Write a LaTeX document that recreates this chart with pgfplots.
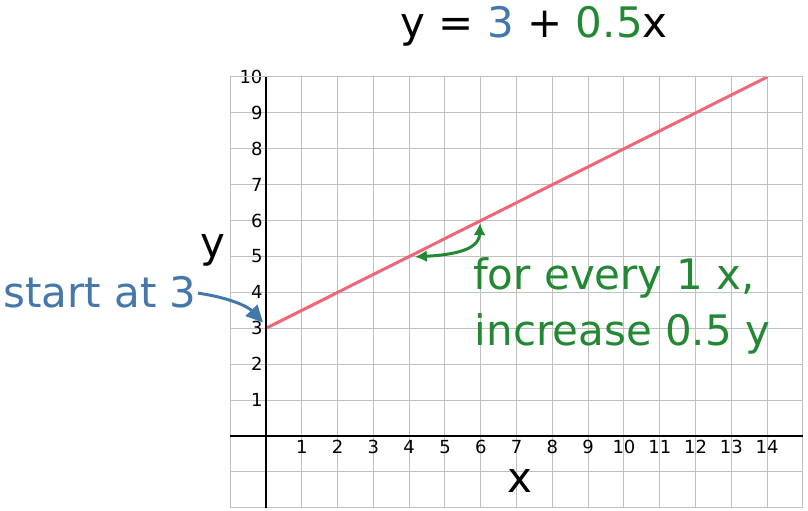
\documentclass[border=0pt]{standalone}
\usepackage{pgfplots}
\pgfplotsset{compat=1.18}
\usepackage{fontspec}
\setmainfont{DejaVu Sans}
\usetikzlibrary{arrows.meta}
\definecolor{tolblue}{HTML}{4477AA}
\definecolor{tolgreen}{HTML}{228833}
\definecolor{tolred}{HTML}{EE6677}
\definecolor{gridgray}{HTML}{C0C0C0}
\newcommand{\tickfont}{\fontsize{18}{18}\selectfont}
\begin{document}
\begin{tikzpicture}
\begin{axis}[
  x=35.8pt, y=35.9pt,
  xmin=-1, xmax=15, ymin=-2, ymax=10,
  axis lines=middle,
  axis line style={-, black, line width=2pt},
  every inner x axis line/.append style={-},
  every inner y axis line/.append style={-},
  xtick={1,...,14}, ytick={1,...,10},
  minor xtick={-1,0,15}, minor ytick={-2,-1,0},
  grid=both,
  major grid style={gridgray, line width=1pt},
  minor grid style={gridgray, line width=1pt},
  major tick length=0pt, minor tick length=0pt,
  every tick label/.append style={font=\tickfont},
  xticklabel style={font=\tickfont, yshift=-1pt},
  yticklabel style={font=\tickfont, xshift=0pt},
  /pgf/number format/assume math mode=true,
  clip=false,
]
\addplot[color=tolred, line width=3pt] coordinates {(0,3) (14,10)};

% frame of grid
\draw[gridgray, line width=1pt] (axis cs:-1,-2) rectangle (axis cs:15,10);
\draw[black, line width=2pt] (axis cs:-1,0) -- (axis cs:15,0);
\draw[black, line width=2pt] (axis cs:0,-2) -- (axis cs:0,10);

% title
\node[anchor=base, inner sep=0pt, font=\fontsize{42}{50}\selectfont] at (axis cs:7.49,11.11)
  {y = {\color{tolblue}3} + {\color{tolgreen}0.5}x};
% axis labels
\node[anchor=base, inner sep=0pt, font=\fontsize{42}{50}\selectfont] at (axis cs:-1.49,4.96) {y};
\node[anchor=base, inner sep=0pt, font=\fontsize{42}{50}\selectfont] at (axis cs:7.09,-1.56) {x};

% annotations
\node[anchor=base, inner sep=0pt, text=tolblue, font=\fontsize{42}{50}\selectfont] at (axis cs:-4.64,3.57) {start at 3};
\draw[tolblue, line width=3pt, -{Triangle[length=17pt,width=16pt]}]
  (axis cs:-1.9,3.98) .. controls (axis cs:-1.0,3.85) and (axis cs:-0.5,3.6) .. (axis cs:-0.08,3.16);

\node[anchor=base west, inner sep=0pt, text=tolgreen, font=\fontsize{42}{50}\selectfont] at (axis cs:5.78,4.07) {for every 1 x,};
\node[anchor=base west, inner sep=0pt, text=tolgreen, font=\fontsize{42}{50}\selectfont] at (axis cs:5.83,2.53) {increase 0.5 y};
\draw[tolgreen, line width=3pt, {Latex[length=12pt,width=12pt]}-{Latex[length=12pt,width=12pt]}]
  (axis cs:4.16,4.99) .. controls (axis cs:5.3,5.05) and (axis cs:5.95,5.2) .. (axis cs:5.98,5.93);

\coordinate (bl) at (axis cs:-7.43,-2.089);
\coordinate (tr) at (axis cs:15.14,12.145);
\end{axis}
\pgfresetboundingbox
\path (bl) rectangle (tr);
\end{tikzpicture}
\end{document}
